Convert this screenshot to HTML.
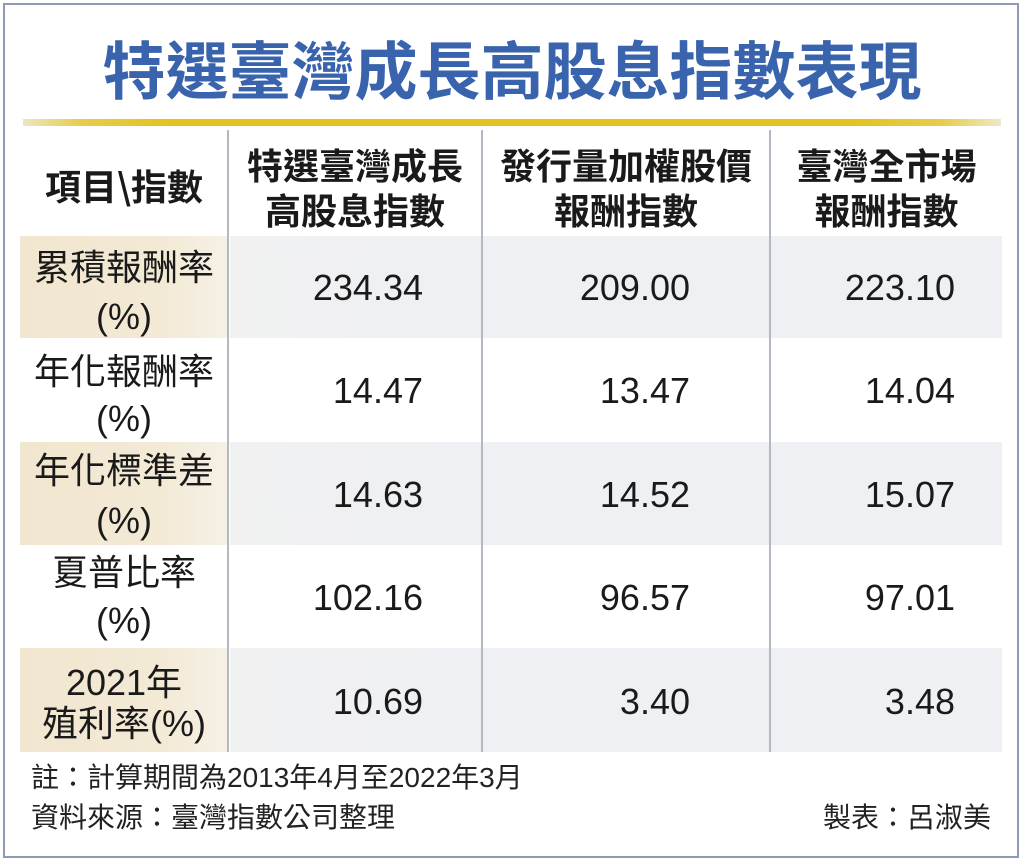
<!DOCTYPE html>
<html>
<head>
<meta charset="utf-8">
<style>
html,body{margin:0;padding:0;background:#fff;}
#c{position:relative;width:1024px;height:863px;overflow:hidden;background:#fff;font-family:"Liberation Sans","Noto Sans CJK TC",sans-serif;color:#1a1a1a;}
.frame{position:absolute;left:3px;top:3px;width:1012px;height:851px;border:2px solid #8e9bb4;}
.title{position:absolute;left:0;width:1024px;top:28px;height:80px;line-height:80px;text-align:center;font-family:"Noto Sans CJK TC",sans-serif;font-weight:bold;font-size:63px;color:#3964ad;letter-spacing:0px;}
.gold{position:absolute;left:23px;top:119px;width:978px;height:7px;background:linear-gradient(to right,#ece6c0 0%,#e7cc4a 6%,#e4c220 15%,#e4c220 85%,#e7cc4a 94%,#efe8c8 100%);}
.shade0{position:absolute;left:20px;width:208px;background:linear-gradient(to right,#f1e6cf 0%,#f3ead6 70%,#f6f1e7 100%);}
.shade1{position:absolute;left:230px;width:772px;background:linear-gradient(to right,#f1f1f1 0%,#eef0f3 30%,#eef0f3 100%);}
.vl{position:absolute;top:130px;width:2px;height:622px;background:#b3b9c3;}
.t{position:absolute;white-space:nowrap;font-size:36px;line-height:40px;height:40px;}
.h{font-family:"Noto Sans CJK TC",sans-serif;font-weight:bold;text-align:center;}
.l{font-family:"Liberation Sans","Noto Sans CJK TC",sans-serif;text-align:center;}
.n{font-family:"Liberation Sans",sans-serif;text-align:right;}
.f{position:absolute;white-space:nowrap;font-size:28px;line-height:32px;height:32px;font-family:"Liberation Sans","Noto Sans CJK TC",sans-serif;color:#222;}
</style>
</head>
<body>
<div id="c">
<div class="frame"></div>
<div class="title">特選臺灣成長高股息指數表現</div>
<div class="gold"></div>

<!-- shaded rows -->
<div class="shade0" style="top:236px;height:102px;"></div>
<div class="shade1" style="top:236px;height:102px;"></div>
<div class="shade0" style="top:442px;height:103px;"></div>
<div class="shade1" style="top:442px;height:103px;"></div>
<div class="shade0" style="top:648px;height:104px;"></div>
<div class="shade1" style="top:648px;height:104px;"></div>

<!-- dividers -->
<div class="vl" style="left:227px;"></div>
<div class="vl" style="left:481px;"></div>
<div class="vl" style="left:769px;"></div>

<!-- header -->
<div class="t h" style="left:20px;width:208px;top:165px;">項目\指數</div>
<div class="t h" style="left:229px;width:252px;top:144px;">特選臺灣成長</div>
<div class="t h" style="left:229px;width:252px;top:189px;">高股息指數</div>
<div class="t h" style="left:483px;width:286px;top:144px;">發行量加權股價</div>
<div class="t h" style="left:483px;width:286px;top:189px;">報酬指數</div>
<div class="t h" style="left:771px;width:231px;top:144px;">臺灣全市場</div>
<div class="t h" style="left:771px;width:231px;top:189px;">報酬指數</div>

<!-- row labels -->
<div class="t l" style="left:20px;width:208px;top:248px;">累積報酬率</div>
<div class="t l" style="left:20px;width:208px;top:297px;">(%)</div>
<div class="t l" style="left:20px;width:208px;top:352px;">年化報酬率</div>
<div class="t l" style="left:20px;width:208px;top:399px;">(%)</div>
<div class="t l" style="left:20px;width:208px;top:451px;">年化標準差</div>
<div class="t l" style="left:20px;width:208px;top:501px;">(%)</div>
<div class="t l" style="left:20px;width:208px;top:553px;">夏普比率</div>
<div class="t l" style="left:20px;width:208px;top:601px;">(%)</div>
<div class="t l" style="left:20px;width:208px;top:663px;">2021年</div>
<div class="t l" style="left:20px;width:208px;top:704px;">殖利率(%)</div>

<!-- numbers -->
<div class="t n" style="left:230px;width:193px;top:268px;">234.34</div>
<div class="t n" style="left:484px;width:206px;top:268px;">209.00</div>
<div class="t n" style="left:772px;width:183px;top:268px;">223.10</div>

<div class="t n" style="left:230px;width:193px;top:371px;">14.47</div>
<div class="t n" style="left:484px;width:206px;top:371px;">13.47</div>
<div class="t n" style="left:772px;width:183px;top:371px;">14.04</div>

<div class="t n" style="left:230px;width:193px;top:475px;">14.63</div>
<div class="t n" style="left:484px;width:206px;top:475px;">14.52</div>
<div class="t n" style="left:772px;width:183px;top:475px;">15.07</div>

<div class="t n" style="left:230px;width:193px;top:578px;">102.16</div>
<div class="t n" style="left:484px;width:206px;top:578px;">96.57</div>
<div class="t n" style="left:772px;width:183px;top:578px;">97.01</div>

<div class="t n" style="left:230px;width:193px;top:682px;">10.69</div>
<div class="t n" style="left:484px;width:206px;top:682px;">3.40</div>
<div class="t n" style="left:772px;width:183px;top:682px;">3.48</div>

<!-- footnotes -->
<div class="f" style="left:31px;top:762px;">註：計算期間為2013年4月至2022年3月</div>
<div class="f" style="left:31px;top:802px;">資料來源：臺灣指數公司整理</div>
<div class="f" style="left:700px;width:291px;text-align:right;top:802px;">製表：呂淑美</div>
</div>
</body>
</html>
